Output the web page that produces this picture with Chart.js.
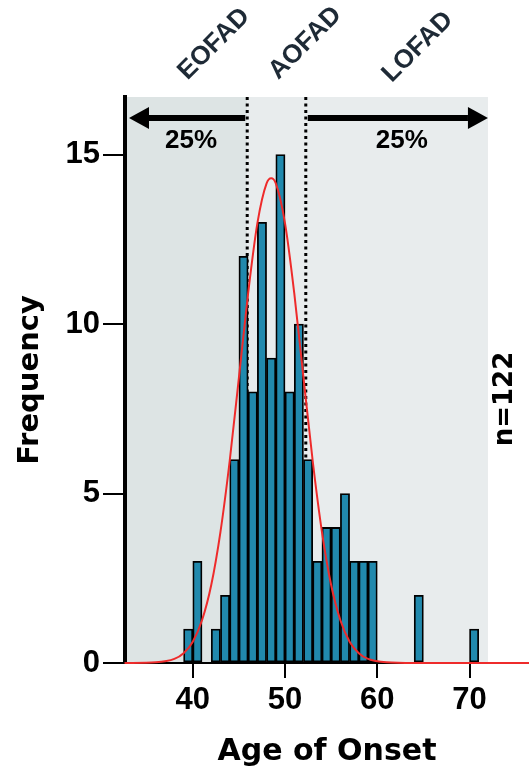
<!DOCTYPE html>
<html>
<head>
<meta charset="utf-8">
<script src="https://cdn.jsdelivr.net/npm/chart.js@4.4.1/dist/chart.umd.min.js"></script>
<style>
  html, body { margin: 0; padding: 0; background: #fff; }
  #wrap { width: 529px; height: 772px; }
</style>
</head>
<body>
<div id="wrap"><canvas id="chart" width="529" height="772"></canvas></div>
<script>
// 1-year bins: left edge of each bin and its count (null = empty bin)
const ages = [39, 40, 41, 42, 43, 44, 45, 46, 47, 48, 49, 50, 51, 52, 53, 54,
              55, 56, 57, 58, 59, 60, 61, 62, 63, 64, 65, 66, 67, 68, 69, 70];
const counts = [1, 3, null, 1, 2, 6, 12, 8, 13, 9, 15, 8, 10, 6, 3, 4,
                4, 5, 3, 3, 3, null, null, null, null, 2, null, null, null, null, null, 1];

// fitted normal curve
const fitX = [32.6, 36, 38, 39, 40, 41, 42, 43, 44, 45, 46, 47, 48, 48.5, 49,
              50, 51, 52, 53, 54, 55, 56, 57, 58, 59, 61, 64, 76.5];
const fitY = [0, 0.02, 0.12, 0.29, 0.63, 1.26, 2.3, 3.87, 5.96, 8.42, 10.91, 12.97, 14.15, 14.3, 14.15,
              12.97, 10.91, 8.42, 5.96, 3.87, 2.3, 1.26, 0.63, 0.29, 0.12, 0.02, 0, 0];

// quartile cut-offs (dotted lines) and end of the shaded range
const quartiles = [45.9, 52.25];
const rangeEnd = 72;

const groups = ['EOFAD', 'AOFAD', 'LOFAD'];
const shares = ['25%', '25%'];
const yTicks = [0, 5, 10, 15];

const total = counts.reduce((s, v) => s + (v || 0), 0);

function arrow(ctx, x0, x1, yy) {
  const dir = Math.sign(x1 - x0);
  const head = 20;
  ctx.lineWidth = 6;
  ctx.beginPath();
  ctx.moveTo(x0, yy);
  ctx.lineTo(x1 - dir * head, yy);
  ctx.stroke();
  ctx.beginPath();
  ctx.moveTo(x1, yy);
  ctx.lineTo(x1 - dir * head, yy - 11);
  ctx.lineTo(x1 - dir * head, yy + 11);
  ctx.closePath();
  ctx.fill();
}

const overlay = {
  id: 'overlay',
  beforeDraw(chart) {
    const { ctx, chartArea: a, scales: { x } } = chart;
    const q1 = x.getPixelForValue(quartiles[0]);
    const end = x.getPixelForValue(rangeEnd);
    ctx.save();
    ctx.fillStyle = '#dde4e4';
    ctx.fillRect(a.left, a.top, q1 - a.left, a.bottom - a.top);
    ctx.fillStyle = '#e8eced';
    ctx.fillRect(q1, a.top, end - q1, a.bottom - a.top);
    ctx.restore();
  },
  beforeDatasetsDraw(chart) {
    const { ctx, chartArea: a, scales: { x } } = chart;
    ctx.save();
    ctx.strokeStyle = '#000';
    ctx.lineWidth = 3;
    ctx.setLineDash([3, 3.5]);
    quartiles.forEach(q => {
      const px = x.getPixelForValue(q);
      ctx.beginPath();
      ctx.moveTo(px, a.top);
      ctx.lineTo(px, a.bottom);
      ctx.stroke();
    });
    ctx.restore();
  },
  afterDraw(chart) {
    const { ctx, chartArea: a, scales: { x } } = chart;
    const q1 = x.getPixelForValue(quartiles[0]);
    const q3 = x.getPixelForValue(quartiles[1]);
    const end = x.getPixelForValue(rangeEnd);
    const ay = a.top + 21;
    ctx.save();
    ctx.fillStyle = '#000';
    ctx.strokeStyle = '#000';
    arrow(ctx, q1 - 2, a.left + 4, ay);
    arrow(ctx, q3 + 2, end, ay);

    ctx.font = 'bold 26px "Liberation Sans", Arial, sans-serif';
    ctx.textAlign = 'center';
    ctx.textBaseline = 'middle';
    ctx.fillText(shares[0], (a.left + q1) / 2 + 5, a.top + 44);
    ctx.fillText(shares[1], (q3 + end) / 2 + 5, a.top + 44);

    // group labels above the plot
    ctx.fillStyle = '#1e2a36';
    ctx.font = 'bold 26px "Liberation Sans", Arial, sans-serif';
    const gx = [42.3, 52.2, 64.4];
    const gy = [44, 43, 47];
    groups.forEach((g, i) => {
      ctx.save();
      ctx.translate(x.getPixelForValue(gx[i]), gy[i]);
      ctx.rotate(-Math.PI / 4);
      ctx.fillText(g, 0, 0);
      ctx.restore();
    });

    ctx.fillStyle = '#000';
    ctx.font = 'bold 26px "DejaVu Sans", sans-serif';
    ctx.translate(505, (a.top + a.bottom) / 2 + 19);
    ctx.rotate(-Math.PI / 2);
    ctx.fillText('n=' + total, 0, 0);
    ctx.restore();
  }
};

new Chart(document.getElementById('chart'), {
  type: 'bar',
  data: {
    datasets: [
      {
        type: 'line',
        data: fitX.map((v, i) => ({ x: v, y: fitY[i] })),
        borderColor: '#ee2b2b',
        borderWidth: 2,
        pointRadius: 0,
        cubicInterpolationMode: 'monotone',
        clip: false,
        order: 0
      },
      {
        type: 'bar',
        data: ages.map((v, i) => ({ x: v + 0.5, y: counts[i] })),
        backgroundColor: '#2189ad',
        borderColor: '#000',
        borderWidth: 1.8,
        borderSkipped: false,
        barPercentage: 1,
        categoryPercentage: 1,
        order: 1
      }
    ]
  },
  options: {
    responsive: false,
    animation: false,
    devicePixelRatio: 1,
    layout: { padding: { top: 97, left: 0, right: 0, bottom: 0 } },
    plugins: { legend: { display: false }, tooltip: { enabled: false } },
    scales: {
      x: {
        type: 'linear',
        min: 32.65,
        max: 76.45,
        offset: false,
        grid: { offset: false, drawOnChartArea: false, tickLength: 15, color: '#000', lineWidth: 2 },
        border: { color: '#000', width: 2 },
        ticks: {
          stepSize: 10,
          includeBounds: false,
          maxRotation: 0,
          padding: 4,
          color: '#000',
          font: { family: '"Liberation Sans", Arial, sans-serif', weight: 'bold', size: 31 }
        },
        title: {
          display: true,
          text: 'Age of Onset',
          color: '#000',
          padding: { top: 0, bottom: 2 },
          font: { family: '"DejaVu Sans", sans-serif', weight: 'bold', size: 30 }
        },
        afterFit(s) { s.height = 109; }
      },
      y: {
        min: 0,
        max: 16.7,
        grid: { drawOnChartArea: false, tickLength: 22, color: '#000', lineWidth: 2 },
        border: { color: '#000', width: 4 },
        afterBuildTicks(s) { s.ticks = yTicks.map(v => ({ value: v })); },
        ticks: {
          padding: 3,
          color: '#000',
          font: { family: '"Liberation Sans", Arial, sans-serif', weight: 'bold', size: 31 }
        },
        title: {
          display: true,
          text: 'Frequency',
          color: '#000',
          padding: { top: 13, bottom: 0 },
          font: { family: '"DejaVu Sans", sans-serif', weight: 'bold', size: 29 }
        },
        afterFit(s) { s.width = 125; }
      }
    }
  },
  plugins: [overlay]
});
</script>
</body>
</html>
